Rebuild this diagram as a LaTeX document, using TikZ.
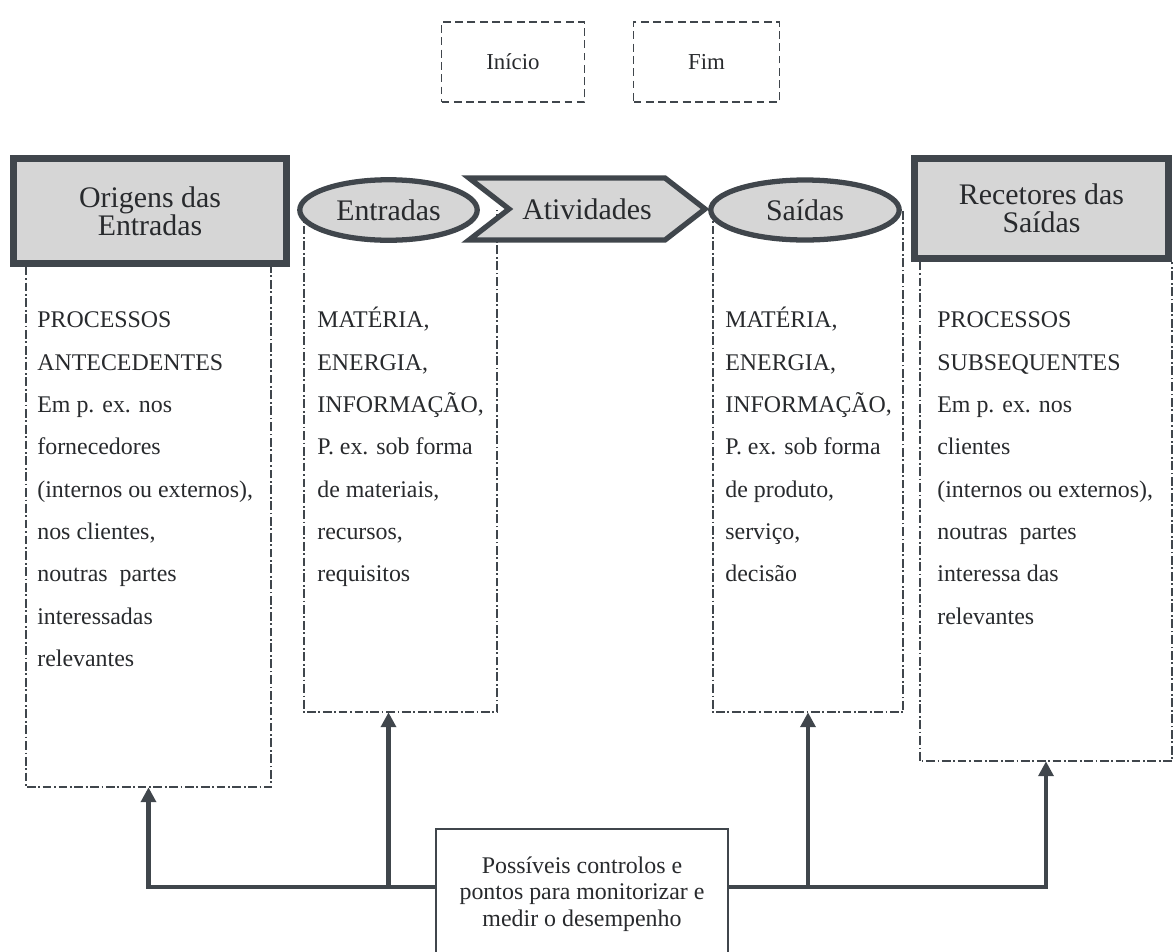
\documentclass[tikz,border=0pt]{standalone}
\usepackage{fontspec}
\setmainfont{Liberation Serif}
\usetikzlibrary{shapes.geometric,arrows.meta,calc}
\definecolor{ink}{RGB}{64,70,76}
\definecolor{boxgray}{RGB}{214,214,214}
\definecolor{txt}{RGB}{40,42,45}

\begin{document}
\begin{tikzpicture}[x=0.02cm, y=-0.02cm,
    header/.style={draw=ink, line width=4pt, fill=boxgray, rectangle, align=center,
      inner sep=0pt, text=txt, font=\fontsize{17}{16}\selectfont},
    oval/.style={draw=ink, line width=3pt, fill=boxgray, ellipse, inner sep=0pt,
      text=txt, font=\fontsize{17}{16}\selectfont},
    endbox/.style={draw=ink, line width=1.1pt, dash pattern=on 4.5pt off 2.5pt,
      minimum height=1.6cm, text=txt, font=\fontsize{13}{15}\selectfont},
    column/.style={rectangle, inner sep=0pt},
    colside/.style={draw=ink, line width=1pt,
      dash pattern=on 5pt off 1.5pt on 1pt off 1.5pt},
    coltext/.style={anchor=north west, inner sep=0pt, align=left, text=txt,
      font=\fontsize{13.6}{24.1}\selectfont},
    conn/.style={draw=ink, line width=2.3pt, arrows={-Triangle[length=8.5pt,width=8.5pt]}},
  ]
  \useasboundingbox (0,0) rectangle (1174,951);
  \clip (0,0) rectangle (1174,951);

  % start and end
  \node[endbox, minimum width=2.86cm] (inicio) at (513,62) {Início};
  \node[endbox, minimum width=2.92cm] (fim) at (706.5,62) {Fim};

  % the four columns (open at the top)
  \node[column, minimum width=4.9cm, minimum height=10.4cm] (origbox) at (148.5,527) {};
  \node[column, minimum width=3.86cm, minimum height=10.04cm] (entbox) at (400.5,461) {};
  \node[column, minimum width=3.8cm, minimum height=10.04cm] (saibox) at (808,461) {};
  \node[column, minimum width=5.04cm, minimum height=9.98cm] (recbox) at (1046,511.5) {};
  \foreach \c in {origbox, entbox, saibox, recbox}
    \draw[colside] (\c.north west) -- (\c.south west) -- (\c.south east) -- (\c.north east);

  % headers
  \node[header, minimum width=5.46cm, minimum height=2.1cm] (orig) at (150,211) {Origens das\\Entradas};
  \node[header, minimum width=5.08cm, minimum height=2.0cm] (rec) at (1041.5,208.5) {Recetores das\\Saídas};

  % activity chevron
  \draw[draw=ink, line width=3pt, fill=boxgray] (469,178) -- (665,178) -- (705,209)
    -- (665,240) -- (469,240) -- (509,209) -- cycle;
  \node[text=txt, font=\fontsize{17}{16}\selectfont] (act) at (587,209) {Atividades};

  % inputs and outputs
  \node[oval, minimum width=3.55cm, minimum height=1.21cm] (ent) at (388.5,210) {Entradas};
  \node[oval, minimum width=3.77cm, minimum height=1.2cm] (sai) at (805,210) {Saídas};

  % column texts
  \node[coltext] (origtxt) at (37,307) {\vphantom{É}PROCESSOS\\ANTECEDENTES\\Em p. ex. nos\\fornecedores\\(internos ou externos),\\nos clientes,\\noutras\ \ partes\\interessadas\\relevantes};
  \node[coltext] (enttxt) at (317,307) {\vphantom{É}MATÉRIA,\\ENERGIA,\\INFORMAÇÃO,\\P. ex. sob forma\\de materiais,\\recursos,\\requisitos};
  \node[coltext] (saitxt) at (725,307) {\vphantom{É}MATÉRIA,\\ENERGIA,\\INFORMAÇÃO,\\P. ex. sob forma\\de produto,\\serviço,\\decisão};
  \node[coltext] (rectxt) at (937,307) {\vphantom{É}PROCESSOS\\SUBSEQUENTES\\Em p. ex. nos\\clientes\\(internos ou externos),\\noutras\ \ partes\\interessa das\\relevantes};

  % controls
  \node[draw=ink, line width=1.1pt, fill=white, minimum width=5.84cm, minimum height=2.6cm,
    anchor=north, align=center, text=txt, font=\fontsize{13.6}{15.2}\selectfont]
    (ctrl) at (582,828) {Possíveis controlos e\\pontos para monitorizar e\\medir o desempenho};
  \coordinate (bus) at (582,887);
  \draw[conn] (ctrl.west |- bus) -| (origbox.south);
  \draw[conn] (ent |- bus) -- (ent |- entbox.south);
  \draw[conn] (saibox.south |- bus) -- (saibox.south);
  \draw[conn] (ctrl.east |- bus) -| (recbox.south);
\end{tikzpicture}
\end{document}
